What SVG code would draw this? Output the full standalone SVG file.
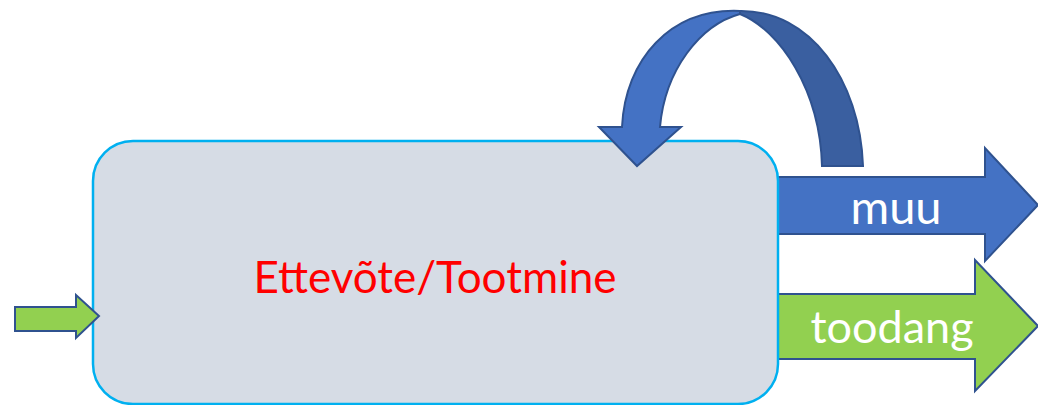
<svg xmlns="http://www.w3.org/2000/svg" width="1038" height="405" viewBox="0 0 1038 405">
<style>
.arr{stroke:#2F528F;stroke-width:2;stroke-linejoin:miter}
.blue{fill:#4472C4}
.dark{fill:#3A5FA0}
.green{fill:#92D050}
.lbl{font-family:Lato,"Liberation Sans",sans-serif;fill:#FFFFFF;text-anchor:middle}
</style>
<rect width="1038" height="405" fill="#FFFFFF"/>
<g id="connectors">
  <path class="arr blue" d="M770 177 H985 V148 L1038 205 L985 261 V234 H770 Z"/>
  <path class="arr green" d="M770 294 H975 V260 L1038 326 L975 391 V359 H770 Z"/>
</g>
<g id="node-main">
  <rect x="93" y="141" width="685" height="263" rx="40" ry="40" fill="#D6DCE5" stroke="#00B0F0" stroke-width="2.5"/>
  <text x="435" y="293" font-family="Lato,'Liberation Sans',sans-serif" font-size="44" fill="#FF0000" text-anchor="middle">Ettevõte/Tootmine</text>
</g>
<g id="input-arrow">
  <path class="arr green" d="M15 307 H76 V295 L99 316 L76 338 V331 H15 Z"/>
</g>
<g id="loop-arrow">
  <path class="arr dark" d="M740 11 C810 10 860 80 863 166 H822 C820 90 780 30 740 14 Z"/>
  <path class="arr blue" d="M740 11 C670 8 625 60 622 127 H599 L637 166 L681 127 H660 C665 70 700 25 740 14 Z"/>
</g>
<g id="label-muu">
  <text class="lbl" x="896" y="224" font-size="47">muu</text>
</g>
<g id="label-toodang">
  <text class="lbl" x="892" y="343" font-size="45">toodang</text>
</g>
</svg>
